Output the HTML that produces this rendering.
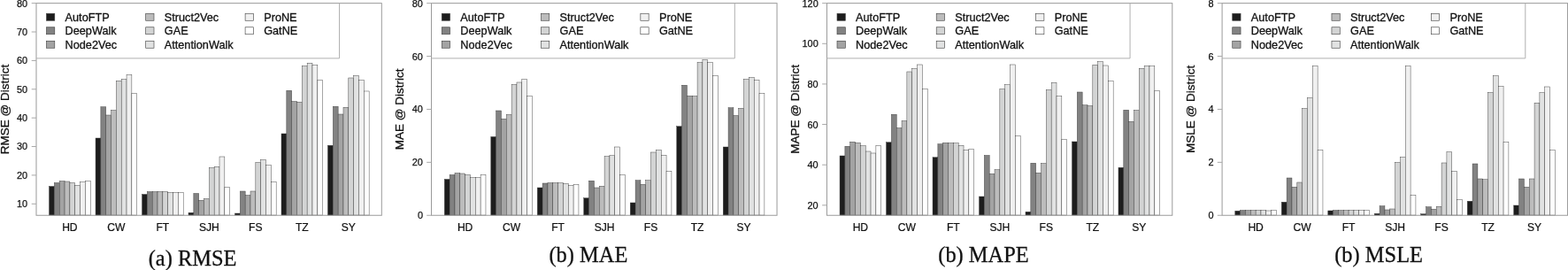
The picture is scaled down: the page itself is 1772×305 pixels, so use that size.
<!DOCTYPE html>
<html lang="en"><head><meta charset="utf-8"><title>Figure</title>
<style>
html,body{margin:0;padding:0;background:#fff;}
body{width:1772px;height:305px;overflow:hidden;}
svg{display:block;}
.s{font-family:"Liberation Sans",Arial,Helvetica,sans-serif;fill:#111;stroke:#111;stroke-width:0.3px;}
.c{font-family:"Liberation Serif","Times New Roman",Times,serif;fill:#111;stroke:#111;stroke-width:0.3px;font-size:25.6px;}
.a{font-size:12.1px;}
.t{font-size:10.9px;stroke-width:0.25px;}
.a{stroke-width:0.22px;}
.l{font-size:12.7px;}
.y{font-size:13.5px;}
</style></head>
<body>
<svg width="1772" height="305" viewBox="0 0 1772 305">
<rect x="0" y="0" width="1772" height="305" fill="#fff"/>
<g>
<rect x="55.56" y="210.5" width="5.83" height="32.55" fill="#1d1d1d" stroke="#3a3a3a" stroke-width="0.45"/>
<rect x="61.39" y="206.5" width="5.83" height="36.55" fill="#828282" stroke="#3a3a3a" stroke-width="0.45"/>
<rect x="67.23" y="204.5" width="5.83" height="38.55" fill="#a3a3a3" stroke="#3a3a3a" stroke-width="0.45"/>
<rect x="73.06" y="205" width="5.83" height="38.05" fill="#bcbcbc" stroke="#3a3a3a" stroke-width="0.45"/>
<rect x="78.89" y="206.5" width="5.83" height="36.55" fill="#d3d4d4" stroke="#3a3a3a" stroke-width="0.45"/>
<rect x="84.72" y="209.25" width="5.83" height="33.8" fill="#e1e2e2" stroke="#3a3a3a" stroke-width="0.45"/>
<rect x="90.55" y="205.75" width="5.83" height="37.3" fill="#f0f0f0" stroke="#3a3a3a" stroke-width="0.45"/>
<rect x="96.39" y="204.5" width="5.83" height="38.55" fill="#ffffff" stroke="#3a3a3a" stroke-width="0.45"/>
<rect x="108.05" y="156" width="5.83" height="87.05" fill="#1d1d1d" stroke="#3a3a3a" stroke-width="0.45"/>
<rect x="113.88" y="120.75" width="5.83" height="122.3" fill="#828282" stroke="#3a3a3a" stroke-width="0.45"/>
<rect x="119.71" y="130" width="5.83" height="113.05" fill="#a3a3a3" stroke="#3a3a3a" stroke-width="0.45"/>
<rect x="125.55" y="124.5" width="5.83" height="118.55" fill="#bcbcbc" stroke="#3a3a3a" stroke-width="0.45"/>
<rect x="131.38" y="91.25" width="5.83" height="151.8" fill="#d3d4d4" stroke="#3a3a3a" stroke-width="0.45"/>
<rect x="137.21" y="89.5" width="5.83" height="153.55" fill="#e1e2e2" stroke="#3a3a3a" stroke-width="0.45"/>
<rect x="143.04" y="84.75" width="5.83" height="158.3" fill="#f0f0f0" stroke="#3a3a3a" stroke-width="0.45"/>
<rect x="148.87" y="105.25" width="5.83" height="137.8" fill="#ffffff" stroke="#3a3a3a" stroke-width="0.45"/>
<rect x="160.54" y="219.5" width="5.83" height="23.55" fill="#1d1d1d" stroke="#3a3a3a" stroke-width="0.45"/>
<rect x="166.37" y="216.5" width="5.83" height="26.55" fill="#828282" stroke="#3a3a3a" stroke-width="0.45"/>
<rect x="172.2" y="216.5" width="5.83" height="26.55" fill="#a3a3a3" stroke="#3a3a3a" stroke-width="0.45"/>
<rect x="178.03" y="216.5" width="5.83" height="26.55" fill="#bcbcbc" stroke="#3a3a3a" stroke-width="0.45"/>
<rect x="183.86" y="216.5" width="5.83" height="26.55" fill="#d3d4d4" stroke="#3a3a3a" stroke-width="0.45"/>
<rect x="189.7" y="217.5" width="5.83" height="25.55" fill="#e1e2e2" stroke="#3a3a3a" stroke-width="0.45"/>
<rect x="195.53" y="217.5" width="5.83" height="25.55" fill="#f0f0f0" stroke="#3a3a3a" stroke-width="0.45"/>
<rect x="201.36" y="217.5" width="5.83" height="25.55" fill="#ffffff" stroke="#3a3a3a" stroke-width="0.45"/>
<rect x="213.02" y="240.25" width="5.83" height="2.8" fill="#1d1d1d" stroke="#3a3a3a" stroke-width="0.45"/>
<rect x="218.85" y="218.5" width="5.83" height="24.55" fill="#828282" stroke="#3a3a3a" stroke-width="0.45"/>
<rect x="224.69" y="226.25" width="5.83" height="16.8" fill="#a3a3a3" stroke="#3a3a3a" stroke-width="0.45"/>
<rect x="230.52" y="224.5" width="5.83" height="18.55" fill="#bcbcbc" stroke="#3a3a3a" stroke-width="0.45"/>
<rect x="236.35" y="189.5" width="5.83" height="53.55" fill="#d3d4d4" stroke="#3a3a3a" stroke-width="0.45"/>
<rect x="242.18" y="188.25" width="5.83" height="54.8" fill="#e1e2e2" stroke="#3a3a3a" stroke-width="0.45"/>
<rect x="248.01" y="177" width="5.83" height="66.05" fill="#f0f0f0" stroke="#3a3a3a" stroke-width="0.45"/>
<rect x="253.85" y="211.5" width="5.83" height="31.55" fill="#ffffff" stroke="#3a3a3a" stroke-width="0.45"/>
<rect x="265.51" y="241" width="5.83" height="2.05" fill="#1d1d1d" stroke="#3a3a3a" stroke-width="0.45"/>
<rect x="271.34" y="216" width="5.83" height="27.05" fill="#828282" stroke="#3a3a3a" stroke-width="0.45"/>
<rect x="277.17" y="220.5" width="5.83" height="22.55" fill="#a3a3a3" stroke="#3a3a3a" stroke-width="0.45"/>
<rect x="283" y="216" width="5.83" height="27.05" fill="#bcbcbc" stroke="#3a3a3a" stroke-width="0.45"/>
<rect x="288.84" y="183.5" width="5.83" height="59.55" fill="#d3d4d4" stroke="#3a3a3a" stroke-width="0.45"/>
<rect x="294.67" y="180.5" width="5.83" height="62.55" fill="#e1e2e2" stroke="#3a3a3a" stroke-width="0.45"/>
<rect x="300.5" y="186.75" width="5.83" height="56.3" fill="#f0f0f0" stroke="#3a3a3a" stroke-width="0.45"/>
<rect x="306.33" y="205.75" width="5.83" height="37.3" fill="#ffffff" stroke="#3a3a3a" stroke-width="0.45"/>
<rect x="318" y="151" width="5.83" height="92.05" fill="#1d1d1d" stroke="#3a3a3a" stroke-width="0.45"/>
<rect x="323.83" y="102.25" width="5.83" height="140.8" fill="#828282" stroke="#3a3a3a" stroke-width="0.45"/>
<rect x="329.66" y="114.5" width="5.83" height="128.55" fill="#a3a3a3" stroke="#3a3a3a" stroke-width="0.45"/>
<rect x="335.49" y="115.25" width="5.83" height="127.8" fill="#bcbcbc" stroke="#3a3a3a" stroke-width="0.45"/>
<rect x="341.32" y="74.5" width="5.83" height="168.55" fill="#d3d4d4" stroke="#3a3a3a" stroke-width="0.45"/>
<rect x="347.15" y="71.25" width="5.83" height="171.8" fill="#e1e2e2" stroke="#3a3a3a" stroke-width="0.45"/>
<rect x="352.99" y="73.75" width="5.83" height="169.3" fill="#f0f0f0" stroke="#3a3a3a" stroke-width="0.45"/>
<rect x="358.82" y="90.5" width="5.83" height="152.55" fill="#ffffff" stroke="#3a3a3a" stroke-width="0.45"/>
<rect x="370.48" y="164.25" width="5.83" height="78.8" fill="#1d1d1d" stroke="#3a3a3a" stroke-width="0.45"/>
<rect x="376.31" y="120.25" width="5.83" height="122.8" fill="#828282" stroke="#3a3a3a" stroke-width="0.45"/>
<rect x="382.15" y="129" width="5.83" height="114.05" fill="#a3a3a3" stroke="#3a3a3a" stroke-width="0.45"/>
<rect x="387.98" y="121.25" width="5.83" height="121.8" fill="#bcbcbc" stroke="#3a3a3a" stroke-width="0.45"/>
<rect x="393.81" y="88" width="5.83" height="155.05" fill="#d3d4d4" stroke="#3a3a3a" stroke-width="0.45"/>
<rect x="399.64" y="85.5" width="5.83" height="157.55" fill="#e1e2e2" stroke="#3a3a3a" stroke-width="0.45"/>
<rect x="405.47" y="90.75" width="5.83" height="152.3" fill="#f0f0f0" stroke="#3a3a3a" stroke-width="0.45"/>
<rect x="411.31" y="103" width="5.83" height="140.05" fill="#ffffff" stroke="#3a3a3a" stroke-width="0.45"/>
<rect x="41" y="3.65" width="390.3" height="239.6" fill="none" stroke="#9a9a9a" stroke-width="1"/>
<line x1="35.7" y1="230.3" x2="41" y2="230.3" stroke="#a8a8a8" stroke-width="1"/>
<text class="s t" x="31.2" y="234.25" text-anchor="end">10</text>
<line x1="35.7" y1="197.92" x2="41" y2="197.92" stroke="#a8a8a8" stroke-width="1"/>
<text class="s t" x="31.2" y="201.87" text-anchor="end">20</text>
<line x1="35.7" y1="165.54" x2="41" y2="165.54" stroke="#a8a8a8" stroke-width="1"/>
<text class="s t" x="31.2" y="169.49" text-anchor="end">30</text>
<line x1="35.7" y1="133.16" x2="41" y2="133.16" stroke="#a8a8a8" stroke-width="1"/>
<text class="s t" x="31.2" y="137.11" text-anchor="end">40</text>
<line x1="35.7" y1="100.79" x2="41" y2="100.79" stroke="#a8a8a8" stroke-width="1"/>
<text class="s t" x="31.2" y="104.74" text-anchor="end">50</text>
<line x1="35.7" y1="68.41" x2="41" y2="68.41" stroke="#a8a8a8" stroke-width="1"/>
<text class="s t" x="31.2" y="72.36" text-anchor="end">60</text>
<line x1="35.7" y1="36.03" x2="41" y2="36.03" stroke="#a8a8a8" stroke-width="1"/>
<text class="s t" x="31.2" y="39.98" text-anchor="end">70</text>
<line x1="35.7" y1="3.65" x2="41" y2="3.65" stroke="#a8a8a8" stroke-width="1"/>
<text class="s t" x="31.2" y="7.6" text-anchor="end">80</text>
<text class="s a" x="78.89" y="260.8" text-anchor="middle">HD</text>
<text class="s a" x="131.38" y="260.8" text-anchor="middle">CW</text>
<text class="s a" x="183.86" y="260.8" text-anchor="middle">FT</text>
<text class="s a" x="236.35" y="260.8" text-anchor="middle">SJH</text>
<text class="s a" x="288.84" y="260.8" text-anchor="middle">FS</text>
<text class="s a" x="341.32" y="260.8" text-anchor="middle">TZ</text>
<text class="s a" x="393.81" y="260.8" text-anchor="middle">SY</text>
<text class="s y" transform="translate(9.7,123.45) rotate(-90)" text-anchor="middle">RMSE @ District</text>
<path d="M41 65.9H383.55V3.65" fill="none" stroke="#b0b0b0" stroke-width="1"/>
<rect x="52.5" y="15.25" width="9.3" height="8" fill="#1d1d1d" stroke="#3a3a3a" stroke-width="0.6"/>
<text class="s l" x="73.6" y="23.65">AutoFTP</text>
<rect x="52.5" y="30.75" width="9.3" height="8" fill="#828282" stroke="#3a3a3a" stroke-width="0.6"/>
<text class="s l" x="73.6" y="39.15">DeepWalk</text>
<rect x="52.5" y="46.25" width="9.3" height="8" fill="#a3a3a3" stroke="#3a3a3a" stroke-width="0.6"/>
<text class="s l" x="73.6" y="54.65">Node2Vec</text>
<rect x="164.7" y="15.25" width="9.3" height="8" fill="#bcbcbc" stroke="#3a3a3a" stroke-width="0.6"/>
<text class="s l" x="185.8" y="23.65">Struct2Vec</text>
<rect x="164.7" y="30.75" width="9.3" height="8" fill="#d3d4d4" stroke="#3a3a3a" stroke-width="0.6"/>
<text class="s l" x="185.8" y="39.15">GAE</text>
<rect x="164.7" y="46.25" width="9.3" height="8" fill="#e1e2e2" stroke="#3a3a3a" stroke-width="0.6"/>
<text class="s l" x="185.8" y="54.65">AttentionWalk</text>
<rect x="277.1" y="15.25" width="9.3" height="8" fill="#f0f0f0" stroke="#3a3a3a" stroke-width="0.6"/>
<text class="s l" x="298.2" y="23.65">ProNE</text>
<rect x="277.1" y="30.75" width="9.3" height="8" fill="#ffffff" stroke="#3a3a3a" stroke-width="0.6"/>
<text class="s l" x="298.2" y="39.15">GatNE</text>
<text class="c" transform="translate(217.6,299.5) scale(0.955,1)" text-anchor="middle">(a) RMSE</text>
</g>
<g>
<rect x="502.31" y="202.5" width="5.83" height="40.55" fill="#1d1d1d" stroke="#3a3a3a" stroke-width="0.45"/>
<rect x="508.14" y="197.5" width="5.83" height="45.55" fill="#828282" stroke="#3a3a3a" stroke-width="0.45"/>
<rect x="513.98" y="195.5" width="5.83" height="47.55" fill="#a3a3a3" stroke="#3a3a3a" stroke-width="0.45"/>
<rect x="519.81" y="196" width="5.83" height="47.05" fill="#bcbcbc" stroke="#3a3a3a" stroke-width="0.45"/>
<rect x="525.64" y="197.5" width="5.83" height="45.55" fill="#d3d4d4" stroke="#3a3a3a" stroke-width="0.45"/>
<rect x="531.47" y="200.5" width="5.83" height="42.55" fill="#e1e2e2" stroke="#3a3a3a" stroke-width="0.45"/>
<rect x="537.3" y="200.5" width="5.83" height="42.55" fill="#f0f0f0" stroke="#3a3a3a" stroke-width="0.45"/>
<rect x="543.14" y="197.75" width="5.83" height="45.3" fill="#ffffff" stroke="#3a3a3a" stroke-width="0.45"/>
<rect x="554.8" y="154.5" width="5.83" height="88.55" fill="#1d1d1d" stroke="#3a3a3a" stroke-width="0.45"/>
<rect x="560.63" y="125" width="5.83" height="118.05" fill="#828282" stroke="#3a3a3a" stroke-width="0.45"/>
<rect x="566.46" y="134.25" width="5.83" height="108.8" fill="#a3a3a3" stroke="#3a3a3a" stroke-width="0.45"/>
<rect x="572.3" y="129.5" width="5.83" height="113.55" fill="#bcbcbc" stroke="#3a3a3a" stroke-width="0.45"/>
<rect x="578.13" y="95.5" width="5.83" height="147.55" fill="#d3d4d4" stroke="#3a3a3a" stroke-width="0.45"/>
<rect x="583.96" y="93" width="5.83" height="150.05" fill="#e1e2e2" stroke="#3a3a3a" stroke-width="0.45"/>
<rect x="589.79" y="89.75" width="5.83" height="153.3" fill="#f0f0f0" stroke="#3a3a3a" stroke-width="0.45"/>
<rect x="595.62" y="108.5" width="5.83" height="134.55" fill="#ffffff" stroke="#3a3a3a" stroke-width="0.45"/>
<rect x="607.29" y="212" width="5.83" height="31.05" fill="#1d1d1d" stroke="#3a3a3a" stroke-width="0.45"/>
<rect x="613.12" y="207" width="5.83" height="36.05" fill="#828282" stroke="#3a3a3a" stroke-width="0.45"/>
<rect x="618.95" y="206.5" width="5.83" height="36.55" fill="#a3a3a3" stroke="#3a3a3a" stroke-width="0.45"/>
<rect x="624.78" y="206.5" width="5.83" height="36.55" fill="#bcbcbc" stroke="#3a3a3a" stroke-width="0.45"/>
<rect x="630.61" y="206.75" width="5.83" height="36.3" fill="#d3d4d4" stroke="#3a3a3a" stroke-width="0.45"/>
<rect x="636.45" y="207.5" width="5.83" height="35.55" fill="#e1e2e2" stroke="#3a3a3a" stroke-width="0.45"/>
<rect x="642.28" y="209.5" width="5.83" height="33.55" fill="#f0f0f0" stroke="#3a3a3a" stroke-width="0.45"/>
<rect x="648.11" y="208.5" width="5.83" height="34.55" fill="#ffffff" stroke="#3a3a3a" stroke-width="0.45"/>
<rect x="659.77" y="223.75" width="5.83" height="19.3" fill="#1d1d1d" stroke="#3a3a3a" stroke-width="0.45"/>
<rect x="665.6" y="204.25" width="5.83" height="38.8" fill="#828282" stroke="#3a3a3a" stroke-width="0.45"/>
<rect x="671.44" y="212" width="5.83" height="31.05" fill="#a3a3a3" stroke="#3a3a3a" stroke-width="0.45"/>
<rect x="677.27" y="210.25" width="5.83" height="32.8" fill="#bcbcbc" stroke="#3a3a3a" stroke-width="0.45"/>
<rect x="683.1" y="176.75" width="5.83" height="66.3" fill="#d3d4d4" stroke="#3a3a3a" stroke-width="0.45"/>
<rect x="688.93" y="175.75" width="5.83" height="67.3" fill="#e1e2e2" stroke="#3a3a3a" stroke-width="0.45"/>
<rect x="694.76" y="166" width="5.83" height="77.05" fill="#f0f0f0" stroke="#3a3a3a" stroke-width="0.45"/>
<rect x="700.6" y="197.75" width="5.83" height="45.3" fill="#ffffff" stroke="#3a3a3a" stroke-width="0.45"/>
<rect x="712.26" y="229" width="5.83" height="14.05" fill="#1d1d1d" stroke="#3a3a3a" stroke-width="0.45"/>
<rect x="718.09" y="203.75" width="5.83" height="39.3" fill="#828282" stroke="#3a3a3a" stroke-width="0.45"/>
<rect x="723.92" y="208.25" width="5.83" height="34.8" fill="#a3a3a3" stroke="#3a3a3a" stroke-width="0.45"/>
<rect x="729.75" y="203.75" width="5.83" height="39.3" fill="#bcbcbc" stroke="#3a3a3a" stroke-width="0.45"/>
<rect x="735.59" y="172" width="5.83" height="71.05" fill="#d3d4d4" stroke="#3a3a3a" stroke-width="0.45"/>
<rect x="741.42" y="169.5" width="5.83" height="73.55" fill="#e1e2e2" stroke="#3a3a3a" stroke-width="0.45"/>
<rect x="747.25" y="175.25" width="5.83" height="67.8" fill="#f0f0f0" stroke="#3a3a3a" stroke-width="0.45"/>
<rect x="753.08" y="193.5" width="5.83" height="49.55" fill="#ffffff" stroke="#3a3a3a" stroke-width="0.45"/>
<rect x="764.75" y="142.75" width="5.83" height="100.3" fill="#1d1d1d" stroke="#3a3a3a" stroke-width="0.45"/>
<rect x="770.58" y="96.25" width="5.83" height="146.8" fill="#828282" stroke="#3a3a3a" stroke-width="0.45"/>
<rect x="776.41" y="108.25" width="5.83" height="134.8" fill="#a3a3a3" stroke="#3a3a3a" stroke-width="0.45"/>
<rect x="782.24" y="108.5" width="5.83" height="134.55" fill="#bcbcbc" stroke="#3a3a3a" stroke-width="0.45"/>
<rect x="788.07" y="70.5" width="5.83" height="172.55" fill="#d3d4d4" stroke="#3a3a3a" stroke-width="0.45"/>
<rect x="793.9" y="67.5" width="5.83" height="175.55" fill="#e1e2e2" stroke="#3a3a3a" stroke-width="0.45"/>
<rect x="799.74" y="70.75" width="5.83" height="172.3" fill="#f0f0f0" stroke="#3a3a3a" stroke-width="0.45"/>
<rect x="805.57" y="85.25" width="5.83" height="157.8" fill="#ffffff" stroke="#3a3a3a" stroke-width="0.45"/>
<rect x="817.23" y="166" width="5.83" height="77.05" fill="#1d1d1d" stroke="#3a3a3a" stroke-width="0.45"/>
<rect x="823.06" y="121.75" width="5.83" height="121.3" fill="#828282" stroke="#3a3a3a" stroke-width="0.45"/>
<rect x="828.9" y="130.5" width="5.83" height="112.55" fill="#a3a3a3" stroke="#3a3a3a" stroke-width="0.45"/>
<rect x="834.73" y="122.25" width="5.83" height="120.8" fill="#bcbcbc" stroke="#3a3a3a" stroke-width="0.45"/>
<rect x="840.56" y="89.5" width="5.83" height="153.55" fill="#d3d4d4" stroke="#3a3a3a" stroke-width="0.45"/>
<rect x="846.39" y="87.5" width="5.83" height="155.55" fill="#e1e2e2" stroke="#3a3a3a" stroke-width="0.45"/>
<rect x="852.22" y="90.5" width="5.83" height="152.55" fill="#f0f0f0" stroke="#3a3a3a" stroke-width="0.45"/>
<rect x="858.06" y="105.5" width="5.83" height="137.55" fill="#ffffff" stroke="#3a3a3a" stroke-width="0.45"/>
<rect x="487.5" y="3.65" width="390.55" height="239.6" fill="none" stroke="#9a9a9a" stroke-width="1"/>
<line x1="482.2" y1="243.25" x2="487.5" y2="243.25" stroke="#a8a8a8" stroke-width="1"/>
<text class="s t" x="477.95" y="247.2" text-anchor="end">0</text>
<line x1="482.2" y1="183.35" x2="487.5" y2="183.35" stroke="#a8a8a8" stroke-width="1"/>
<text class="s t" x="477.95" y="187.3" text-anchor="end">20</text>
<line x1="482.2" y1="123.45" x2="487.5" y2="123.45" stroke="#a8a8a8" stroke-width="1"/>
<text class="s t" x="477.95" y="127.4" text-anchor="end">40</text>
<line x1="482.2" y1="63.55" x2="487.5" y2="63.55" stroke="#a8a8a8" stroke-width="1"/>
<text class="s t" x="477.95" y="67.5" text-anchor="end">60</text>
<line x1="482.2" y1="3.65" x2="487.5" y2="3.65" stroke="#a8a8a8" stroke-width="1"/>
<text class="s t" x="477.95" y="7.6" text-anchor="end">80</text>
<text class="s a" x="525.64" y="260.8" text-anchor="middle">HD</text>
<text class="s a" x="578.13" y="260.8" text-anchor="middle">CW</text>
<text class="s a" x="630.61" y="260.8" text-anchor="middle">FT</text>
<text class="s a" x="683.1" y="260.8" text-anchor="middle">SJH</text>
<text class="s a" x="735.59" y="260.8" text-anchor="middle">FS</text>
<text class="s a" x="788.07" y="260.8" text-anchor="middle">TZ</text>
<text class="s a" x="840.56" y="260.8" text-anchor="middle">SY</text>
<text class="s y" transform="translate(456.2,123.45) rotate(-90)" text-anchor="middle">MAE @ District</text>
<path d="M487.5 65.9H830.3V3.65" fill="none" stroke="#b0b0b0" stroke-width="1"/>
<rect x="499.25" y="15.25" width="9.3" height="8" fill="#1d1d1d" stroke="#3a3a3a" stroke-width="0.6"/>
<text class="s l" x="520.35" y="23.65">AutoFTP</text>
<rect x="499.25" y="30.75" width="9.3" height="8" fill="#828282" stroke="#3a3a3a" stroke-width="0.6"/>
<text class="s l" x="520.35" y="39.15">DeepWalk</text>
<rect x="499.25" y="46.25" width="9.3" height="8" fill="#a3a3a3" stroke="#3a3a3a" stroke-width="0.6"/>
<text class="s l" x="520.35" y="54.65">Node2Vec</text>
<rect x="611.45" y="15.25" width="9.3" height="8" fill="#bcbcbc" stroke="#3a3a3a" stroke-width="0.6"/>
<text class="s l" x="632.55" y="23.65">Struct2Vec</text>
<rect x="611.45" y="30.75" width="9.3" height="8" fill="#d3d4d4" stroke="#3a3a3a" stroke-width="0.6"/>
<text class="s l" x="632.55" y="39.15">GAE</text>
<rect x="611.45" y="46.25" width="9.3" height="8" fill="#e1e2e2" stroke="#3a3a3a" stroke-width="0.6"/>
<text class="s l" x="632.55" y="54.65">AttentionWalk</text>
<rect x="723.85" y="15.25" width="9.3" height="8" fill="#f0f0f0" stroke="#3a3a3a" stroke-width="0.6"/>
<text class="s l" x="744.95" y="23.65">ProNE</text>
<rect x="723.85" y="30.75" width="9.3" height="8" fill="#ffffff" stroke="#3a3a3a" stroke-width="0.6"/>
<text class="s l" x="744.95" y="39.15">GatNE</text>
<text class="c" transform="translate(664.9,296) scale(0.955,1)" text-anchor="middle">(b) MAE</text>
</g>
<g>
<rect x="949.06" y="176" width="5.83" height="67.05" fill="#1d1d1d" stroke="#3a3a3a" stroke-width="0.45"/>
<rect x="954.89" y="165.25" width="5.83" height="77.8" fill="#828282" stroke="#3a3a3a" stroke-width="0.45"/>
<rect x="960.73" y="160.25" width="5.83" height="82.8" fill="#a3a3a3" stroke="#3a3a3a" stroke-width="0.45"/>
<rect x="966.56" y="161.25" width="5.83" height="81.8" fill="#bcbcbc" stroke="#3a3a3a" stroke-width="0.45"/>
<rect x="972.39" y="164.75" width="5.83" height="78.3" fill="#d3d4d4" stroke="#3a3a3a" stroke-width="0.45"/>
<rect x="978.22" y="171" width="5.83" height="72.05" fill="#e1e2e2" stroke="#3a3a3a" stroke-width="0.45"/>
<rect x="984.05" y="173" width="5.83" height="70.05" fill="#f0f0f0" stroke="#3a3a3a" stroke-width="0.45"/>
<rect x="989.89" y="164.5" width="5.83" height="78.55" fill="#ffffff" stroke="#3a3a3a" stroke-width="0.45"/>
<rect x="1001.55" y="160.75" width="5.83" height="82.3" fill="#1d1d1d" stroke="#3a3a3a" stroke-width="0.45"/>
<rect x="1007.38" y="129.25" width="5.83" height="113.8" fill="#828282" stroke="#3a3a3a" stroke-width="0.45"/>
<rect x="1013.21" y="144.5" width="5.83" height="98.55" fill="#a3a3a3" stroke="#3a3a3a" stroke-width="0.45"/>
<rect x="1019.05" y="136.5" width="5.83" height="106.55" fill="#bcbcbc" stroke="#3a3a3a" stroke-width="0.45"/>
<rect x="1024.88" y="81" width="5.83" height="162.05" fill="#d3d4d4" stroke="#3a3a3a" stroke-width="0.45"/>
<rect x="1030.71" y="77.5" width="5.83" height="165.55" fill="#e1e2e2" stroke="#3a3a3a" stroke-width="0.45"/>
<rect x="1036.54" y="73" width="5.83" height="170.05" fill="#f0f0f0" stroke="#3a3a3a" stroke-width="0.45"/>
<rect x="1042.37" y="100.5" width="5.83" height="142.55" fill="#ffffff" stroke="#3a3a3a" stroke-width="0.45"/>
<rect x="1054.04" y="177.75" width="5.83" height="65.3" fill="#1d1d1d" stroke="#3a3a3a" stroke-width="0.45"/>
<rect x="1059.87" y="162.75" width="5.83" height="80.3" fill="#828282" stroke="#3a3a3a" stroke-width="0.45"/>
<rect x="1065.7" y="161.25" width="5.83" height="81.8" fill="#a3a3a3" stroke="#3a3a3a" stroke-width="0.45"/>
<rect x="1071.53" y="161.5" width="5.83" height="81.55" fill="#bcbcbc" stroke="#3a3a3a" stroke-width="0.45"/>
<rect x="1077.36" y="161.75" width="5.83" height="81.3" fill="#d3d4d4" stroke="#3a3a3a" stroke-width="0.45"/>
<rect x="1083.2" y="164.25" width="5.83" height="78.8" fill="#e1e2e2" stroke="#3a3a3a" stroke-width="0.45"/>
<rect x="1089.03" y="169.5" width="5.83" height="73.55" fill="#f0f0f0" stroke="#3a3a3a" stroke-width="0.45"/>
<rect x="1094.86" y="168.5" width="5.83" height="74.55" fill="#ffffff" stroke="#3a3a3a" stroke-width="0.45"/>
<rect x="1106.52" y="222" width="5.83" height="21.05" fill="#1d1d1d" stroke="#3a3a3a" stroke-width="0.45"/>
<rect x="1112.35" y="175.5" width="5.83" height="67.55" fill="#828282" stroke="#3a3a3a" stroke-width="0.45"/>
<rect x="1118.19" y="196.25" width="5.83" height="46.8" fill="#a3a3a3" stroke="#3a3a3a" stroke-width="0.45"/>
<rect x="1124.02" y="191.75" width="5.83" height="51.3" fill="#bcbcbc" stroke="#3a3a3a" stroke-width="0.45"/>
<rect x="1129.85" y="100.5" width="5.83" height="142.55" fill="#d3d4d4" stroke="#3a3a3a" stroke-width="0.45"/>
<rect x="1135.68" y="95.75" width="5.83" height="147.3" fill="#e1e2e2" stroke="#3a3a3a" stroke-width="0.45"/>
<rect x="1141.51" y="73" width="5.83" height="170.05" fill="#f0f0f0" stroke="#3a3a3a" stroke-width="0.45"/>
<rect x="1147.35" y="153.5" width="5.83" height="89.55" fill="#ffffff" stroke="#3a3a3a" stroke-width="0.45"/>
<rect x="1159.01" y="239.25" width="5.83" height="3.8" fill="#1d1d1d" stroke="#3a3a3a" stroke-width="0.45"/>
<rect x="1164.84" y="184.25" width="5.83" height="58.8" fill="#828282" stroke="#3a3a3a" stroke-width="0.45"/>
<rect x="1170.67" y="195.25" width="5.83" height="47.8" fill="#a3a3a3" stroke="#3a3a3a" stroke-width="0.45"/>
<rect x="1176.5" y="184.5" width="5.83" height="58.55" fill="#bcbcbc" stroke="#3a3a3a" stroke-width="0.45"/>
<rect x="1182.34" y="101.5" width="5.83" height="141.55" fill="#d3d4d4" stroke="#3a3a3a" stroke-width="0.45"/>
<rect x="1188.17" y="93.25" width="5.83" height="149.8" fill="#e1e2e2" stroke="#3a3a3a" stroke-width="0.45"/>
<rect x="1194" y="108.75" width="5.83" height="134.3" fill="#f0f0f0" stroke="#3a3a3a" stroke-width="0.45"/>
<rect x="1199.83" y="157.75" width="5.83" height="85.3" fill="#ffffff" stroke="#3a3a3a" stroke-width="0.45"/>
<rect x="1211.5" y="160" width="5.83" height="83.05" fill="#1d1d1d" stroke="#3a3a3a" stroke-width="0.45"/>
<rect x="1217.33" y="104" width="5.83" height="139.05" fill="#828282" stroke="#3a3a3a" stroke-width="0.45"/>
<rect x="1223.16" y="118.75" width="5.83" height="124.3" fill="#a3a3a3" stroke="#3a3a3a" stroke-width="0.45"/>
<rect x="1228.99" y="119.5" width="5.83" height="123.55" fill="#bcbcbc" stroke="#3a3a3a" stroke-width="0.45"/>
<rect x="1234.82" y="73.25" width="5.83" height="169.8" fill="#d3d4d4" stroke="#3a3a3a" stroke-width="0.45"/>
<rect x="1240.65" y="69.75" width="5.83" height="173.3" fill="#e1e2e2" stroke="#3a3a3a" stroke-width="0.45"/>
<rect x="1246.49" y="74" width="5.83" height="169.05" fill="#f0f0f0" stroke="#3a3a3a" stroke-width="0.45"/>
<rect x="1252.32" y="91.5" width="5.83" height="151.55" fill="#ffffff" stroke="#3a3a3a" stroke-width="0.45"/>
<rect x="1263.98" y="189.25" width="5.83" height="53.8" fill="#1d1d1d" stroke="#3a3a3a" stroke-width="0.45"/>
<rect x="1269.81" y="124.25" width="5.83" height="118.8" fill="#828282" stroke="#3a3a3a" stroke-width="0.45"/>
<rect x="1275.65" y="137.25" width="5.83" height="105.8" fill="#a3a3a3" stroke="#3a3a3a" stroke-width="0.45"/>
<rect x="1281.48" y="124.5" width="5.83" height="118.55" fill="#bcbcbc" stroke="#3a3a3a" stroke-width="0.45"/>
<rect x="1287.31" y="77.25" width="5.83" height="165.8" fill="#d3d4d4" stroke="#3a3a3a" stroke-width="0.45"/>
<rect x="1293.14" y="74.5" width="5.83" height="168.55" fill="#e1e2e2" stroke="#3a3a3a" stroke-width="0.45"/>
<rect x="1298.97" y="74.75" width="5.83" height="168.3" fill="#f0f0f0" stroke="#3a3a3a" stroke-width="0.45"/>
<rect x="1304.81" y="102.5" width="5.83" height="140.55" fill="#ffffff" stroke="#3a3a3a" stroke-width="0.45"/>
<rect x="934.45" y="3.65" width="390.35" height="239.6" fill="none" stroke="#9a9a9a" stroke-width="1"/>
<line x1="929.15" y1="231.84" x2="934.45" y2="231.84" stroke="#a8a8a8" stroke-width="1"/>
<text class="s t" x="924.7" y="235.79" text-anchor="end">20</text>
<line x1="929.15" y1="186.2" x2="934.45" y2="186.2" stroke="#a8a8a8" stroke-width="1"/>
<text class="s t" x="924.7" y="190.15" text-anchor="end">40</text>
<line x1="929.15" y1="140.56" x2="934.45" y2="140.56" stroke="#a8a8a8" stroke-width="1"/>
<text class="s t" x="924.7" y="144.51" text-anchor="end">60</text>
<line x1="929.15" y1="94.93" x2="934.45" y2="94.93" stroke="#a8a8a8" stroke-width="1"/>
<text class="s t" x="924.7" y="98.88" text-anchor="end">80</text>
<line x1="929.15" y1="49.29" x2="934.45" y2="49.29" stroke="#a8a8a8" stroke-width="1"/>
<text class="s t" x="924.7" y="53.24" text-anchor="end">100</text>
<line x1="929.15" y1="3.65" x2="934.45" y2="3.65" stroke="#a8a8a8" stroke-width="1"/>
<text class="s t" x="924.7" y="7.6" text-anchor="end">120</text>
<text class="s a" x="972.39" y="260.8" text-anchor="middle">HD</text>
<text class="s a" x="1024.88" y="260.8" text-anchor="middle">CW</text>
<text class="s a" x="1077.36" y="260.8" text-anchor="middle">FT</text>
<text class="s a" x="1129.85" y="260.8" text-anchor="middle">SJH</text>
<text class="s a" x="1182.34" y="260.8" text-anchor="middle">FS</text>
<text class="s a" x="1234.82" y="260.8" text-anchor="middle">TZ</text>
<text class="s a" x="1287.31" y="260.8" text-anchor="middle">SY</text>
<text class="s y" transform="translate(903.15,123.45) rotate(-90)" text-anchor="middle">MAPE @ District</text>
<path d="M934.45 65.9H1277.05V3.65" fill="none" stroke="#b0b0b0" stroke-width="1"/>
<rect x="946" y="15.25" width="9.3" height="8" fill="#1d1d1d" stroke="#3a3a3a" stroke-width="0.6"/>
<text class="s l" x="967.1" y="23.65">AutoFTP</text>
<rect x="946" y="30.75" width="9.3" height="8" fill="#828282" stroke="#3a3a3a" stroke-width="0.6"/>
<text class="s l" x="967.1" y="39.15">DeepWalk</text>
<rect x="946" y="46.25" width="9.3" height="8" fill="#a3a3a3" stroke="#3a3a3a" stroke-width="0.6"/>
<text class="s l" x="967.1" y="54.65">Node2Vec</text>
<rect x="1058.2" y="15.25" width="9.3" height="8" fill="#bcbcbc" stroke="#3a3a3a" stroke-width="0.6"/>
<text class="s l" x="1079.3" y="23.65">Struct2Vec</text>
<rect x="1058.2" y="30.75" width="9.3" height="8" fill="#d3d4d4" stroke="#3a3a3a" stroke-width="0.6"/>
<text class="s l" x="1079.3" y="39.15">GAE</text>
<rect x="1058.2" y="46.25" width="9.3" height="8" fill="#e1e2e2" stroke="#3a3a3a" stroke-width="0.6"/>
<text class="s l" x="1079.3" y="54.65">AttentionWalk</text>
<rect x="1170.6" y="15.25" width="9.3" height="8" fill="#f0f0f0" stroke="#3a3a3a" stroke-width="0.6"/>
<text class="s l" x="1191.7" y="23.65">ProNE</text>
<rect x="1170.6" y="30.75" width="9.3" height="8" fill="#ffffff" stroke="#3a3a3a" stroke-width="0.6"/>
<text class="s l" x="1191.7" y="39.15">GatNE</text>
<text class="c" transform="translate(1111.5,296) scale(0.955,1)" text-anchor="middle">(b) MAPE</text>
</g>
<g>
<rect x="1395.81" y="238.25" width="5.83" height="4.8" fill="#1d1d1d" stroke="#3a3a3a" stroke-width="0.45"/>
<rect x="1401.64" y="237.5" width="5.83" height="5.55" fill="#828282" stroke="#3a3a3a" stroke-width="0.45"/>
<rect x="1407.48" y="237.5" width="5.83" height="5.55" fill="#a3a3a3" stroke="#3a3a3a" stroke-width="0.45"/>
<rect x="1413.31" y="237.5" width="5.83" height="5.55" fill="#bcbcbc" stroke="#3a3a3a" stroke-width="0.45"/>
<rect x="1419.14" y="237.5" width="5.83" height="5.55" fill="#d3d4d4" stroke="#3a3a3a" stroke-width="0.45"/>
<rect x="1424.97" y="237.5" width="5.83" height="5.55" fill="#e1e2e2" stroke="#3a3a3a" stroke-width="0.45"/>
<rect x="1430.8" y="238" width="5.83" height="5.05" fill="#f0f0f0" stroke="#3a3a3a" stroke-width="0.45"/>
<rect x="1436.64" y="237.5" width="5.83" height="5.55" fill="#ffffff" stroke="#3a3a3a" stroke-width="0.45"/>
<rect x="1448.3" y="228.25" width="5.83" height="14.8" fill="#1d1d1d" stroke="#3a3a3a" stroke-width="0.45"/>
<rect x="1454.13" y="201" width="5.83" height="42.05" fill="#828282" stroke="#3a3a3a" stroke-width="0.45"/>
<rect x="1459.96" y="211.25" width="5.83" height="31.8" fill="#a3a3a3" stroke="#3a3a3a" stroke-width="0.45"/>
<rect x="1465.8" y="206" width="5.83" height="37.05" fill="#bcbcbc" stroke="#3a3a3a" stroke-width="0.45"/>
<rect x="1471.63" y="122.5" width="5.83" height="120.55" fill="#d3d4d4" stroke="#3a3a3a" stroke-width="0.45"/>
<rect x="1477.46" y="110.5" width="5.83" height="132.55" fill="#e1e2e2" stroke="#3a3a3a" stroke-width="0.45"/>
<rect x="1483.29" y="74.75" width="5.83" height="168.3" fill="#f0f0f0" stroke="#3a3a3a" stroke-width="0.45"/>
<rect x="1489.12" y="169.5" width="5.83" height="73.55" fill="#ffffff" stroke="#3a3a3a" stroke-width="0.45"/>
<rect x="1500.79" y="238" width="5.83" height="5.05" fill="#1d1d1d" stroke="#3a3a3a" stroke-width="0.45"/>
<rect x="1506.62" y="237.5" width="5.83" height="5.55" fill="#828282" stroke="#3a3a3a" stroke-width="0.45"/>
<rect x="1512.45" y="237.5" width="5.83" height="5.55" fill="#a3a3a3" stroke="#3a3a3a" stroke-width="0.45"/>
<rect x="1518.28" y="237.5" width="5.83" height="5.55" fill="#bcbcbc" stroke="#3a3a3a" stroke-width="0.45"/>
<rect x="1524.11" y="237.5" width="5.83" height="5.55" fill="#d3d4d4" stroke="#3a3a3a" stroke-width="0.45"/>
<rect x="1529.95" y="237.5" width="5.83" height="5.55" fill="#e1e2e2" stroke="#3a3a3a" stroke-width="0.45"/>
<rect x="1535.78" y="237.5" width="5.83" height="5.55" fill="#f0f0f0" stroke="#3a3a3a" stroke-width="0.45"/>
<rect x="1541.61" y="237.5" width="5.83" height="5.55" fill="#ffffff" stroke="#3a3a3a" stroke-width="0.45"/>
<rect x="1553.27" y="241.25" width="5.83" height="1.8" fill="#1d1d1d" stroke="#3a3a3a" stroke-width="0.45"/>
<rect x="1559.1" y="232.75" width="5.83" height="10.3" fill="#828282" stroke="#3a3a3a" stroke-width="0.45"/>
<rect x="1564.94" y="237" width="5.83" height="6.05" fill="#a3a3a3" stroke="#3a3a3a" stroke-width="0.45"/>
<rect x="1570.77" y="236" width="5.83" height="7.05" fill="#bcbcbc" stroke="#3a3a3a" stroke-width="0.45"/>
<rect x="1576.6" y="183.5" width="5.83" height="59.55" fill="#d3d4d4" stroke="#3a3a3a" stroke-width="0.45"/>
<rect x="1582.43" y="177.5" width="5.83" height="65.55" fill="#e1e2e2" stroke="#3a3a3a" stroke-width="0.45"/>
<rect x="1588.26" y="74.75" width="5.83" height="168.3" fill="#f0f0f0" stroke="#3a3a3a" stroke-width="0.45"/>
<rect x="1594.1" y="220.75" width="5.83" height="22.3" fill="#ffffff" stroke="#3a3a3a" stroke-width="0.45"/>
<rect x="1605.76" y="241.75" width="5.83" height="1.3" fill="#1d1d1d" stroke="#3a3a3a" stroke-width="0.45"/>
<rect x="1611.59" y="233.75" width="5.83" height="9.3" fill="#828282" stroke="#3a3a3a" stroke-width="0.45"/>
<rect x="1617.42" y="236.25" width="5.83" height="6.8" fill="#a3a3a3" stroke="#3a3a3a" stroke-width="0.45"/>
<rect x="1623.25" y="233.25" width="5.83" height="9.8" fill="#bcbcbc" stroke="#3a3a3a" stroke-width="0.45"/>
<rect x="1629.09" y="184" width="5.83" height="59.05" fill="#d3d4d4" stroke="#3a3a3a" stroke-width="0.45"/>
<rect x="1634.92" y="171.75" width="5.83" height="71.3" fill="#e1e2e2" stroke="#3a3a3a" stroke-width="0.45"/>
<rect x="1640.75" y="193.5" width="5.83" height="49.55" fill="#f0f0f0" stroke="#3a3a3a" stroke-width="0.45"/>
<rect x="1646.58" y="225.5" width="5.83" height="17.55" fill="#ffffff" stroke="#3a3a3a" stroke-width="0.45"/>
<rect x="1658.25" y="227.25" width="5.83" height="15.8" fill="#1d1d1d" stroke="#3a3a3a" stroke-width="0.45"/>
<rect x="1664.08" y="185" width="5.83" height="58.05" fill="#828282" stroke="#3a3a3a" stroke-width="0.45"/>
<rect x="1669.91" y="202" width="5.83" height="41.05" fill="#a3a3a3" stroke="#3a3a3a" stroke-width="0.45"/>
<rect x="1675.74" y="202.75" width="5.83" height="40.3" fill="#bcbcbc" stroke="#3a3a3a" stroke-width="0.45"/>
<rect x="1681.57" y="104.5" width="5.83" height="138.55" fill="#d3d4d4" stroke="#3a3a3a" stroke-width="0.45"/>
<rect x="1687.4" y="85.5" width="5.83" height="157.55" fill="#e1e2e2" stroke="#3a3a3a" stroke-width="0.45"/>
<rect x="1693.24" y="97.5" width="5.83" height="145.55" fill="#f0f0f0" stroke="#3a3a3a" stroke-width="0.45"/>
<rect x="1699.07" y="160.5" width="5.83" height="82.55" fill="#ffffff" stroke="#3a3a3a" stroke-width="0.45"/>
<rect x="1710.73" y="232" width="5.83" height="11.05" fill="#1d1d1d" stroke="#3a3a3a" stroke-width="0.45"/>
<rect x="1716.56" y="202" width="5.83" height="41.05" fill="#828282" stroke="#3a3a3a" stroke-width="0.45"/>
<rect x="1722.4" y="211.25" width="5.83" height="31.8" fill="#a3a3a3" stroke="#3a3a3a" stroke-width="0.45"/>
<rect x="1728.23" y="202" width="5.83" height="41.05" fill="#bcbcbc" stroke="#3a3a3a" stroke-width="0.45"/>
<rect x="1734.06" y="116.25" width="5.83" height="126.8" fill="#d3d4d4" stroke="#3a3a3a" stroke-width="0.45"/>
<rect x="1739.89" y="104.75" width="5.83" height="138.3" fill="#e1e2e2" stroke="#3a3a3a" stroke-width="0.45"/>
<rect x="1745.72" y="98" width="5.83" height="145.05" fill="#f0f0f0" stroke="#3a3a3a" stroke-width="0.45"/>
<rect x="1751.56" y="169.5" width="5.83" height="73.55" fill="#ffffff" stroke="#3a3a3a" stroke-width="0.45"/>
<rect x="1381.1" y="3.65" width="390.45" height="239.6" fill="none" stroke="#9a9a9a" stroke-width="1"/>
<line x1="1375.8" y1="243.25" x2="1381.1" y2="243.25" stroke="#a8a8a8" stroke-width="1"/>
<text class="s t" x="1371.45" y="247.2" text-anchor="end">0</text>
<line x1="1375.8" y1="183.35" x2="1381.1" y2="183.35" stroke="#a8a8a8" stroke-width="1"/>
<text class="s t" x="1371.45" y="187.3" text-anchor="end">2</text>
<line x1="1375.8" y1="123.45" x2="1381.1" y2="123.45" stroke="#a8a8a8" stroke-width="1"/>
<text class="s t" x="1371.45" y="127.4" text-anchor="end">4</text>
<line x1="1375.8" y1="63.55" x2="1381.1" y2="63.55" stroke="#a8a8a8" stroke-width="1"/>
<text class="s t" x="1371.45" y="67.5" text-anchor="end">6</text>
<line x1="1375.8" y1="3.65" x2="1381.1" y2="3.65" stroke="#a8a8a8" stroke-width="1"/>
<text class="s t" x="1371.45" y="7.6" text-anchor="end">8</text>
<text class="s a" x="1419.14" y="260.8" text-anchor="middle">HD</text>
<text class="s a" x="1471.63" y="260.8" text-anchor="middle">CW</text>
<text class="s a" x="1524.11" y="260.8" text-anchor="middle">FT</text>
<text class="s a" x="1576.6" y="260.8" text-anchor="middle">SJH</text>
<text class="s a" x="1629.09" y="260.8" text-anchor="middle">FS</text>
<text class="s a" x="1681.57" y="260.8" text-anchor="middle">TZ</text>
<text class="s a" x="1734.06" y="260.8" text-anchor="middle">SY</text>
<text class="s y" transform="translate(1349.8,123.45) rotate(-90)" text-anchor="middle">MSLE @ District</text>
<path d="M1381.1 65.9H1723.8V3.65" fill="none" stroke="#b0b0b0" stroke-width="1"/>
<rect x="1392.75" y="15.25" width="9.3" height="8" fill="#1d1d1d" stroke="#3a3a3a" stroke-width="0.6"/>
<text class="s l" x="1413.85" y="23.65">AutoFTP</text>
<rect x="1392.75" y="30.75" width="9.3" height="8" fill="#828282" stroke="#3a3a3a" stroke-width="0.6"/>
<text class="s l" x="1413.85" y="39.15">DeepWalk</text>
<rect x="1392.75" y="46.25" width="9.3" height="8" fill="#a3a3a3" stroke="#3a3a3a" stroke-width="0.6"/>
<text class="s l" x="1413.85" y="54.65">Node2Vec</text>
<rect x="1504.95" y="15.25" width="9.3" height="8" fill="#bcbcbc" stroke="#3a3a3a" stroke-width="0.6"/>
<text class="s l" x="1526.05" y="23.65">Struct2Vec</text>
<rect x="1504.95" y="30.75" width="9.3" height="8" fill="#d3d4d4" stroke="#3a3a3a" stroke-width="0.6"/>
<text class="s l" x="1526.05" y="39.15">GAE</text>
<rect x="1504.95" y="46.25" width="9.3" height="8" fill="#e1e2e2" stroke="#3a3a3a" stroke-width="0.6"/>
<text class="s l" x="1526.05" y="54.65">AttentionWalk</text>
<rect x="1617.35" y="15.25" width="9.3" height="8" fill="#f0f0f0" stroke="#3a3a3a" stroke-width="0.6"/>
<text class="s l" x="1638.45" y="23.65">ProNE</text>
<rect x="1617.35" y="30.75" width="9.3" height="8" fill="#ffffff" stroke="#3a3a3a" stroke-width="0.6"/>
<text class="s l" x="1638.45" y="39.15">GatNE</text>
<text class="c" transform="translate(1558.1,296) scale(0.955,1)" text-anchor="middle">(b) MSLE</text>
</g>
</svg>
</body></html>
